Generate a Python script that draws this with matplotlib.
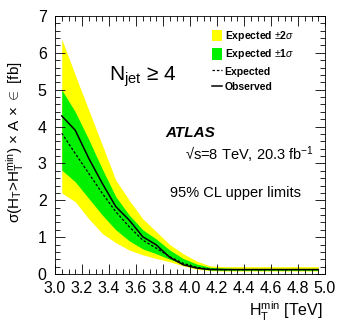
import matplotlib
matplotlib.use("Agg")
import matplotlib.pyplot as plt
from matplotlib.ticker import MultipleLocator
from matplotlib.patches import Rectangle
from matplotlib.lines import Line2D
import numpy as np

plt.rcParams['font.family'] = ['Liberation Sans', 'DejaVu Sans']
plt.rcParams['mathtext.fontset'] = 'custom'
plt.rcParams['mathtext.rm'] = 'Liberation Sans'
plt.rcParams['mathtext.it'] = 'Liberation Sans:italic'
plt.rcParams['mathtext.bf'] = 'Liberation Sans:bold'

ht_min = [3.05, 3.15, 3.25, 3.35, 3.45, 3.55, 3.65, 3.75, 3.85, 3.95,
          4.05, 4.15, 4.25, 4.35, 4.45, 4.55, 4.65, 4.75, 4.85, 4.95]
observed = [4.29, 3.9, 3.14, 2.46, 1.83, 1.46, 1.01, 0.79, 0.45, 0.25,
            0.16, 0.12, 0.12, 0.12, 0.12, 0.12, 0.12, 0.12, 0.12, 0.12]
expected = [3.82, 3.27, 2.73, 2.19, 1.69, 1.28, 0.92, 0.70, 0.47, 0.29,
            0.18, 0.13, 0.12, 0.12, 0.12, 0.12, 0.12, 0.12, 0.12, 0.12]
up1 = [5.0, 4.4, 3.65, 2.85, 2.1, 1.6, 1.2, 0.95, 0.65, 0.42,
       0.27, 0.18, 0.16, 0.15, 0.15, 0.15, 0.15, 0.15, 0.15, 0.15]
dn1 = [2.82, 2.5, 2.05, 1.6, 1.2, 0.9, 0.68, 0.55, 0.4, 0.27,
       0.16, 0.11, 0.1, 0.1, 0.1, 0.1, 0.1, 0.1, 0.1, 0.1]
up2 = [6.37, 5.4, 4.45, 3.5, 2.55, 2.0, 1.5, 1.15, 0.8, 0.55,
       0.35, 0.22, 0.2, 0.2, 0.2, 0.2, 0.2, 0.2, 0.2, 0.2]
dn2 = [2.2, 1.96, 1.5, 1.1, 0.85, 0.65, 0.52, 0.42, 0.33, 0.22,
       0.13, 0.09, 0.08, 0.08, 0.08, 0.08, 0.08, 0.08, 0.08, 0.08]

yellow = '#ffff00'
green = '#00f000'

fig = plt.figure(figsize=(3.41, 3.27), dpi=100)
ax = fig.add_axes([55/341, 1-274/327, 270/341, 258/327])

ax.fill_between(ht_min, dn2, up2, color=yellow, lw=0)
ax.fill_between(ht_min, dn1, up1, color=green, lw=0)
ax.plot(ht_min, expected, color='black', lw=0.9, ls=(0, (2, 1.5)))
ax.plot(ht_min, observed, color='black', lw=1.1)

ax.set_xlim(3.0, 5.0)
ax.set_ylim(0, 7)
ax.xaxis.set_major_locator(MultipleLocator(0.2))
ax.xaxis.set_minor_locator(MultipleLocator(0.05))
ax.yaxis.set_major_locator(MultipleLocator(1))
ax.yaxis.set_minor_locator(MultipleLocator(0.2))
ax.xaxis.set_major_formatter(matplotlib.ticker.FormatStrFormatter('%.1f'))
ax.tick_params(which='both', direction='in', top=True, right=True, labelsize=11.5, width=0.6)
ax.tick_params(which='major', length=7)
ax.tick_params(which='minor', length=3.5)
ax.tick_params(axis='x', pad=5)
ax.tick_params(axis='y', pad=6)
for s in ax.spines.values():
    s.set_linewidth(0.6)

fig.text(15/341, 1-142/327,
         r'σ(H$_\mathrm{T}$>H$_\mathrm{T}^\mathrm{min}$) × A × $\in$ [fb]',
         rotation=90, fontsize=11, ha='center', va='center')
fig.text(323/341, 1-311/327, r'H$_\mathrm{T}^\mathrm{min}$ [TeV]',
         fontsize=11.5, ha='right', va='center')

ax.text(0.2, 0.765, r'N$_\mathrm{jet}$ ≥ 4', transform=ax.transAxes, fontsize=15, va='center')
ax.text(0.41, 0.546, 'ATLAS', transform=ax.transAxes, fontsize=11, fontweight='bold',
        style='italic', va='center')
ax.text(0.48, 0.461, r'√s=8 TeV, 20.3 fb$^{-1}$', transform=ax.transAxes, fontsize=10.5,
        va='center')
ax.text(0.426, 0.314, '95% CL upper limits', transform=ax.transAxes, fontsize=10.5, va='center')

handles = [Rectangle((0, 0), 1, 1, color=yellow, lw=0),
           Rectangle((0, 0), 1, 1, color=green, lw=0),
           Line2D([], [], color='black', lw=0.9, ls=(0, (2, 1.5))),
           Line2D([], [], color='black', lw=1.1)]
labels = [r'Expected $\pm$2$\sigma$', r'Expected $\pm$1$\sigma$', 'Expected', 'Observed']
leg = ax.legend(handles, labels, loc='upper left', bbox_to_anchor=(0.545, 0.985),
                frameon=False, prop={'size': 7.5, 'weight': 'bold'},
                handlelength=1.0, handleheight=1.3, handletextpad=0.25, labelspacing=0.4)

fig.savefig('out.png', dpi=100)
